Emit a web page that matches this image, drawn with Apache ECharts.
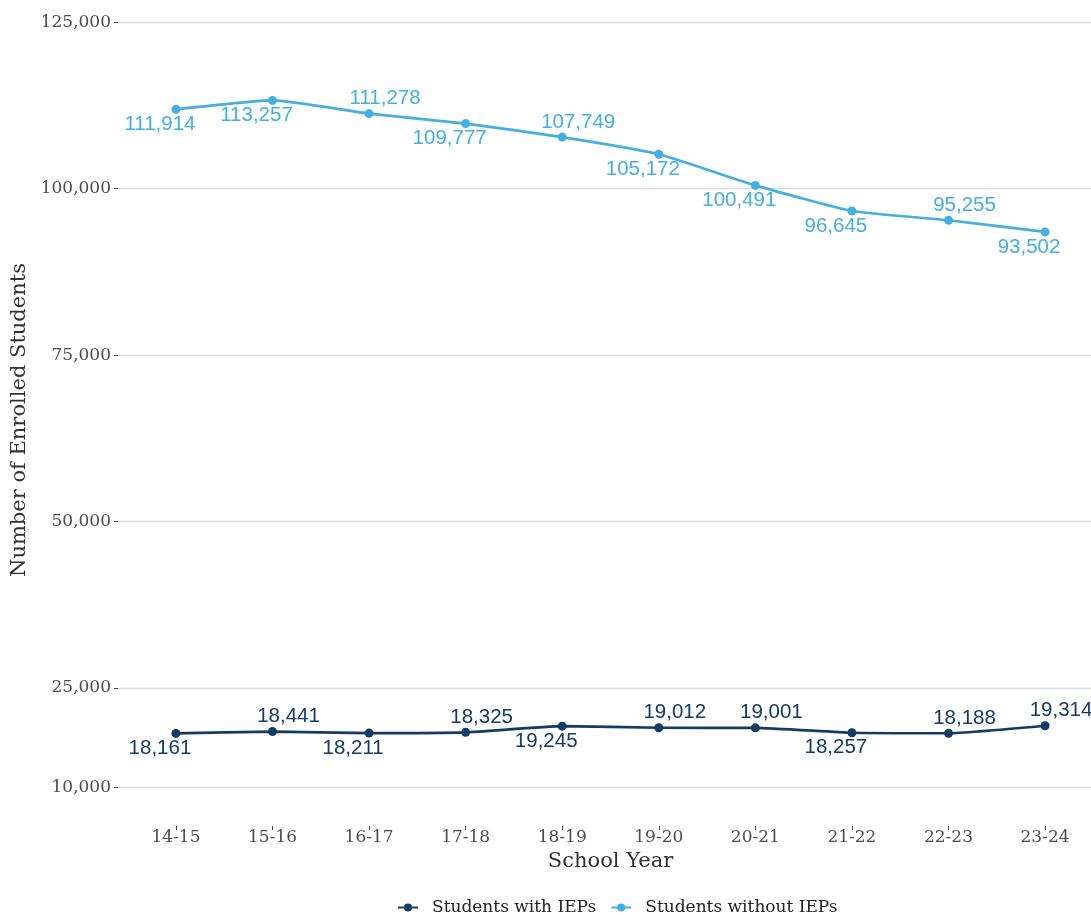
<!DOCTYPE html>
<html>
<head>
<meta charset="utf-8">
<script src="https://cdn.jsdelivr.net/npm/echarts@6/dist/echarts.min.js"></script>
<style>
  html, body { margin: 0; padding: 0; background: #fff; }
  #chart { width: 1091px; height: 915px; }
</style>
</head>
<body>
<div id="chart"></div>
<script>
// school years on the x axis
var years = ["14-15", "15-16", "16-17", "17-18", "18-19", "19-20", "20-21", "21-22", "22-23", "23-24"];
// enrolled students
var withIEPs = [18161, 18441, 18211, 18325, 19245, 19012, 19001, 18257, 18188, 19314];
var withoutIEPs = [111914, 113257, 111278, 109777, 107749, 105172, 100491, 96645, 95255, 93502];
// y tick labels
var yTicks = [10000, 25000, 50000, 75000, 100000, 125000];
// where each value label sits (a = above, b = below)
var sideWith = ["b", "a", "b", "a", "b", "a", "a", "b", "a", "a"];
var sideWithout = ["b", "b", "a", "b", "a", "b", "b", "b", "a", "b"];

var navy = "#153a64";
var sky = "#47aee0";
var serif = "DejaVu Serif";

function fmt(v) {
  return v.toLocaleString("en-US");
}

// above -> up and nudged right, below -> down and nudged left
function buildData(values, sides) {
  return values.map(function (v, i) {
    var up = sides[i] === "a";
    return {
      value: [i, v],
      label: {
        position: up ? "top" : "bottom",
        padding: up ? [0, 0, 0, 32] : [0, 32, 0, 0]
      }
    };
  });
}

function makeSeries(name, values, sides, color) {
  return {
    name: name,
    type: "line",
    data: buildData(values, sides),
    smooth: 0.15,
    symbol: "circle",
    symbolSize: 9,
    lineStyle: { color: color, width: 2.7 },
    itemStyle: { color: color },
    label: {
      show: true,
      distance: 0,
      color: color,
      fontFamily: "Liberation Sans",
      fontSize: 20.5,
      formatter: function (p) { return fmt(p.value[1]); }
    },
    emphasis: { disabled: true }
  };
}

var myChart = echarts.init(document.getElementById("chart"));
myChart.setOption({
  animation: false,
  backgroundColor: "#ffffff",
  grid: {
    left: 118,
    right: -12,
    top: -16,
    bottom: 89,
    containLabel: false,
    outerBoundsMode: "none"
  },
  legend: {
    left: 392,
    top: 894,
    itemWidth: 20,
    itemHeight: 10,
    itemGap: 14,
    textStyle: {
      fontFamily: serif,
      fontSize: 17,
      color: "#222",
      padding: [0, 0, 0, 9]
    },
    data: ["Students with IEPs", "Students without IEPs"]
  },
  xAxis: {
    type: "value",
    min: -0.6,
    max: 9.6,
    name: "School Year",
    nameLocation: "middle",
    nameGap: 23,
    nameTextStyle: { fontFamily: serif, fontSize: 21, color: "#333" },
    axisLine: { show: false, onZero: false },
    axisTick: {
      show: true,
      length: 4,
      customValues: years.map(function (y, i) { return i; }),
      lineStyle: { color: "#444" }
    },
    axisLabel: {
      customValues: years.map(function (y, i) { return i; }),
      margin: 3,
      fontFamily: serif,
      fontSize: 17,
      color: "#4d4d4d",
      formatter: function (v) { return years[v]; }
    },
    splitLine: { show: false }
  },
  yAxis: {
    type: "value",
    min: 4250,
    max: 130750,
    name: "Number of Enrolled Students",
    nameLocation: "middle",
    nameGap: 85,
    nameTextStyle: {
      fontFamily: serif,
      fontSize: 21,
      color: "#333",
      padding: [0, 30, 0, 0]
    },
    axisLine: { show: false, onZero: false },
    axisTick: {
      show: true,
      length: 4,
      customValues: yTicks,
      lineStyle: { color: "#444" }
    },
    axisLabel: {
      customValues: yTicks,
      margin: 7,
      fontFamily: serif,
      fontSize: 17,
      color: "#4d4d4d",
      formatter: function (v) { return fmt(v); }
    },
    splitLine: { show: true, lineStyle: { color: "#dcdcdc", width: 1.3 } }
  },
  series: [
    makeSeries("Students with IEPs", withIEPs, sideWith, navy),
    makeSeries("Students without IEPs", withoutIEPs, sideWithout, sky)
  ]
});
</script>
</body>
</html>
